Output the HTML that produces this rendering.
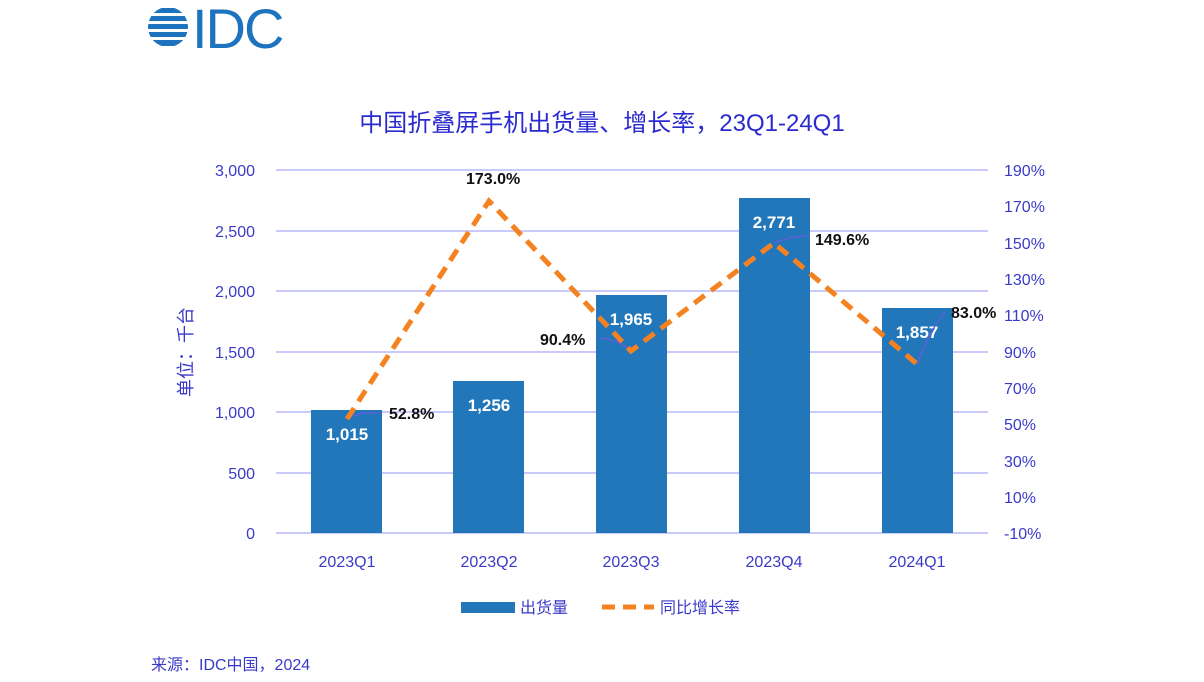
<!DOCTYPE html>
<html><head><meta charset="utf-8"><style>
body{margin:0;background:#fff;width:1204px;height:677px;overflow:hidden}
svg text{font-family:"Liberation Sans","Noto Sans CJK SC",sans-serif}
</style></head><body>
<svg width="1204" height="677" xmlns="http://www.w3.org/2000/svg">
<g fill="#1e73be">
<clipPath id="c"><circle cx="168" cy="27" r="20"/></clipPath>
<g clip-path="url(#c)">
<rect x="146" y="8" width="44" height="5"/><rect x="146" y="16" width="44" height="5"/><rect x="146" y="24" width="44" height="5"/><rect x="146" y="32" width="44" height="5"/><rect x="146" y="40" width="44" height="6"/>
</g>
<text x="192" y="48" font-size="56" fill="#1e73be" letter-spacing="-2" style="font-family:'Liberation Sans',sans-serif">IDC</text>
</g>
<text x="602" y="131" font-size="24" fill="#2a2ad0" text-anchor="middle">中国折叠屏手机出货量、增长率，23Q1-24Q1</text>
<g stroke="#b8b8f8" stroke-width="1.5">
<line x1="276" y1="170" x2="988" y2="170"/><line x1="276" y1="231" x2="988" y2="231"/><line x1="276" y1="291" x2="988" y2="291"/><line x1="276" y1="352" x2="988" y2="352"/><line x1="276" y1="412" x2="988" y2="412"/><line x1="276" y1="473" x2="988" y2="473"/><line x1="276" y1="533" x2="988" y2="533"/>
</g>
<g font-size="16" fill="#3a3ac8" text-anchor="end">
<text x="255" y="176">3,000</text><text x="255" y="237">2,500</text><text x="255" y="297">2,000</text><text x="255" y="358">1,500</text><text x="255" y="418">1,000</text><text x="255" y="479">500</text><text x="255" y="539">0</text>
</g>
<g font-size="16" fill="#3a3ac8">
<text x="1004" y="176">190%</text><text x="1004" y="212">170%</text><text x="1004" y="249">150%</text><text x="1004" y="285">130%</text><text x="1004" y="321">110%</text><text x="1004" y="358">90%</text><text x="1004" y="394">70%</text><text x="1004" y="430">50%</text><text x="1004" y="467">30%</text><text x="1004" y="503">10%</text><text x="1004" y="539">-10%</text>
</g>
<text transform="translate(192,352) rotate(-90)" font-size="18" fill="#3a3ac8" text-anchor="middle">单位：千台</text>
<g fill="#2277bb">
<rect x="311" y="410" width="71" height="123"/><rect x="453" y="381" width="71" height="152"/><rect x="596" y="295" width="71" height="238"/><rect x="739" y="198" width="71" height="335"/><rect x="882" y="308" width="71" height="225"/>
</g>
<g font-size="17" font-weight="bold" fill="#fff" text-anchor="middle">
<text x="347" y="440">1,015</text><text x="489" y="411">1,256</text><text x="631" y="325">1,965</text><text x="774" y="228">2,771</text><text x="917" y="338">1,857</text>
</g>
<g stroke="#6a5ae0" stroke-width="1.2" fill="none">
<path d="M347 419 Q360 411 380 413"/><path d="M631 351 Q620 340 600 338"/><path d="M774 243 Q790 236 810 236"/><path d="M917 364 Q930 330 945 312"/>
</g>
<polyline points="347,419 489,201 631,351 774,243 917,364" fill="none" stroke="#f58220" stroke-width="5" stroke-dasharray="13,8"/>
<g font-size="16" font-weight="bold" fill="#111">
<text x="389" y="419">52.8%</text><text x="466" y="184">173.0%</text><text x="540" y="345">90.4%</text><text x="815" y="245">149.6%</text><text x="951" y="318">83.0%</text>
</g>
<g font-size="16" fill="#3a3ac8" text-anchor="middle">
<text x="347" y="567">2023Q1</text><text x="489" y="567">2023Q2</text><text x="631" y="567">2023Q3</text><text x="774" y="567">2023Q4</text><text x="917" y="567">2024Q1</text>
</g>
<rect x="461" y="602" width="54" height="11" fill="#2277bb"/>
<text x="520" y="613" font-size="16" fill="#3a3ac8">出货量</text>
<line x1="602" y1="607" x2="654" y2="607" stroke="#f58220" stroke-width="5" stroke-dasharray="13,8"/>
<text x="660" y="613" font-size="16" fill="#3a3ac8">同比增长率</text>
<text x="151" y="670" font-size="16" fill="#3a3ac8">来源：IDC中国，2024</text>
</svg>
</body></html>
